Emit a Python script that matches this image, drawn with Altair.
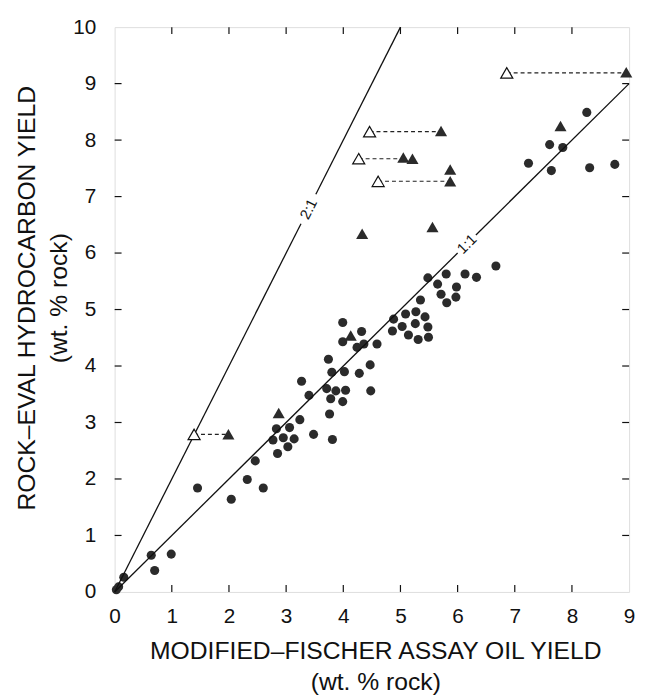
import altair as alt
import pandas as pd

# circles (measured yields)
circ_x = [0.03, 0.07, 0.16, 0.64, 0.70, 0.99, 1.45, 2.04, 2.32, 2.46, 2.60, 2.77, 2.83, 2.85, 2.95,
          3.06, 3.03, 3.14, 3.24, 3.27, 3.40, 3.48, 3.74, 3.71, 3.78, 3.76, 3.81, 3.80, 3.87, 3.99,
          3.99, 4.02, 4.04, 3.99, 4.32, 4.24, 4.36, 4.28, 4.47, 4.48, 4.59, 4.86, 4.88, 5.09, 5.03,
          5.14, 5.27, 5.26, 5.31, 5.43, 5.48, 5.49, 5.35, 5.81, 5.48, 5.65, 5.80, 5.71, 5.98, 5.97,
          6.13, 6.33, 6.67, 7.24, 7.61, 7.64, 7.84, 8.26, 8.31, 8.75]
circ_y = [0.04, 0.09, 0.26, 0.65, 0.38, 0.67, 1.84, 1.64, 1.99, 2.32, 1.84, 2.69, 2.89, 2.45, 2.73,
          2.91, 2.57, 2.71, 3.05, 3.73, 3.48, 2.79, 4.12, 3.60, 3.42, 3.15, 2.70, 3.89, 3.56, 4.77,
          4.43, 3.90, 3.57, 3.37, 4.61, 4.33, 4.39, 3.87, 4.02, 3.56, 4.39, 4.62, 4.83, 4.92, 4.70,
          4.55, 4.96, 4.75, 4.47, 4.87, 4.69, 4.51, 5.17, 5.12, 5.56, 5.45, 5.63, 5.27, 5.40, 5.22,
          5.63, 5.57, 5.77, 7.59, 7.92, 7.46, 7.87, 8.49, 7.51, 7.57]

# filled triangles
ftri_x = [4.33, 5.56, 5.71, 5.05, 5.21, 5.87, 5.87, 7.80, 8.95, 4.13, 2.87, 1.99]
ftri_y = [6.34, 6.46, 8.16, 7.69, 7.67, 7.48, 7.27, 8.25, 9.20, 4.54, 3.17, 2.79]

# open triangles and the dashed links to their filled partners
otri_x = [6.86, 4.46, 4.27, 4.61, 1.39]
otri_y = [9.19, 8.15, 7.67, 7.27, 2.79]
link_x2 = [8.95, 5.71, 5.05, 5.87, 1.99]

# reference lines (1:1 and 2:1), broken where the label sits
ref_x = [0.0, 6.32, 0.0, 3.52]
ref_y = [0.0, 6.32, 0.0, 7.04]
ref_x2 = [6.00, 9.0, 3.26, 5.0]
ref_y2 = [6.00, 9.0, 6.52, 10.0]

x_ticks = [1, 2, 3, 4, 5, 6, 7, 8]
y_ticks = [1, 2, 3, 4, 5, 6, 7, 8, 9]
x_labels = list(range(0, 10))
y_labels = list(range(0, 11))

W, H = 521, 572
FONT = "Liberation Sans"
INK = "#2b2b2b"

xs = alt.Scale(domain=[0, 9], nice=False, zero=False)
ys = alt.Scale(domain=[0, 10], nice=False, zero=False)

circ = pd.DataFrame({"x": circ_x, "y": circ_y})
ftri = pd.DataFrame({"x": ftri_x, "y": ftri_y})
otri = pd.DataFrame({"x": otri_x, "y": otri_y})
links = pd.DataFrame({"x": otri_x, "x2": link_x2, "y": otri_y})
refs = pd.DataFrame({"x": ref_x, "y": ref_y, "x2": ref_x2, "y2": ref_y2})
xt = pd.DataFrame({"v": x_ticks})
yt = pd.DataFrame({"v": y_ticks})

xaxis = alt.Axis(values=x_labels, format="d", title=["MODIFIED\u2013FISCHER ASSAY OIL YIELD", "(wt. % rock)"],
                 grid=False, ticks=False, domain=False, labelPadding=14, titlePadding=12,
                 labelFontSize=21, titleFontSize=25, titleFontWeight="normal", titleLineHeight=32,
                 labelColor="#111", titleColor="#111", labelFlush=False, titleX=264)
yaxis = alt.Axis(values=y_labels, format="d", title=["ROCK\u2013EVAL HYDROCARBON YIELD", "(wt. % rock)"],
                 grid=False, ticks=False, domain=False, labelPadding=19, titlePadding=1,
                 labelFontSize=21, titleFontSize=25, titleFontWeight="normal", titleLineHeight=33,
                 labelColor="#111", titleColor="#111", labelFlush=False, titleY=274)

base_circles = alt.Chart(circ).mark_point(shape="circle", filled=True, size=85, color=INK, opacity=1).encode(
    x=alt.X("x:Q", scale=xs, axis=xaxis),
    y=alt.Y("y:Q", scale=ys, axis=yaxis),
)

ticks_b = alt.Chart(xt).mark_rule(color="#111", strokeWidth=1.2).encode(
    x=alt.X("v:Q", scale=xs), y=alt.value(H), y2=alt.value(H - 7))
ticks_t = alt.Chart(xt).mark_rule(color="#111", strokeWidth=1.2).encode(
    x=alt.X("v:Q", scale=xs), y=alt.value(0), y2=alt.value(7))
ticks_l = alt.Chart(yt).mark_rule(color="#111", strokeWidth=1.2).encode(
    y=alt.Y("v:Q", scale=ys), x=alt.value(0), x2=alt.value(7))
ticks_r = alt.Chart(yt).mark_rule(color="#111", strokeWidth=1.2).encode(
    y=alt.Y("v:Q", scale=ys), x=alt.value(W), x2=alt.value(W - 7))

ref_lines = alt.Chart(refs).mark_rule(color="#111", strokeWidth=1.3).encode(
    x=alt.X("x:Q", scale=xs), x2="x2:Q", y=alt.Y("y:Q", scale=ys), y2="y2:Q")

dash = alt.Chart(links).mark_rule(color="#222", strokeWidth=1.1, strokeDash=[4, 3]).encode(
    x=alt.X("x:Q", scale=xs), x2="x2:Q", y=alt.Y("y:Q", scale=ys))

filled_tri = alt.Chart(ftri).mark_point(shape="triangle-up", filled=True, size=150, color=INK, opacity=1).encode(
    x=alt.X("x:Q", scale=xs), y=alt.Y("y:Q", scale=ys))

open_tri = alt.Chart(otri).mark_point(shape="triangle-up", filled=True, size=150, fill="white",
                                      stroke="#111", strokeWidth=1.2, opacity=1).encode(
    x=alt.X("x:Q", scale=xs), y=alt.Y("y:Q", scale=ys))

lab11 = alt.Chart(pd.DataFrame({"x": [6.16], "y": [6.16], "t": ["1:1"]})).mark_text(
    angle=315, fontSize=15, font=FONT, color="#111").encode(
    x=alt.X("x:Q", scale=xs), y=alt.Y("y:Q", scale=ys), text="t:N")
lab21 = alt.Chart(pd.DataFrame({"x": [3.39], "y": [6.78], "t": ["2:1"]})).mark_text(
    angle=297, fontSize=15, font=FONT, color="#111").encode(
    x=alt.X("x:Q", scale=xs), y=alt.Y("y:Q", scale=ys), text="t:N")

chart = alt.layer(
    base_circles, ticks_b, ticks_t, ticks_l, ticks_r, ref_lines, dash,
    filled_tri, open_tri, lab11, lab21
).properties(
    width=W, height=H,
    autosize=alt.AutoSizeParams(type="none"),
    padding={"left": 108, "top": 15, "right": 8, "bottom": 100},
).configure_view(
    stroke="#111", strokeWidth=1.4
).configure_axis(
    labelFont=FONT, titleFont=FONT
).configure(background="white")

chart.save("out.html", embed_options={"renderer": "svg", "actions": False})
